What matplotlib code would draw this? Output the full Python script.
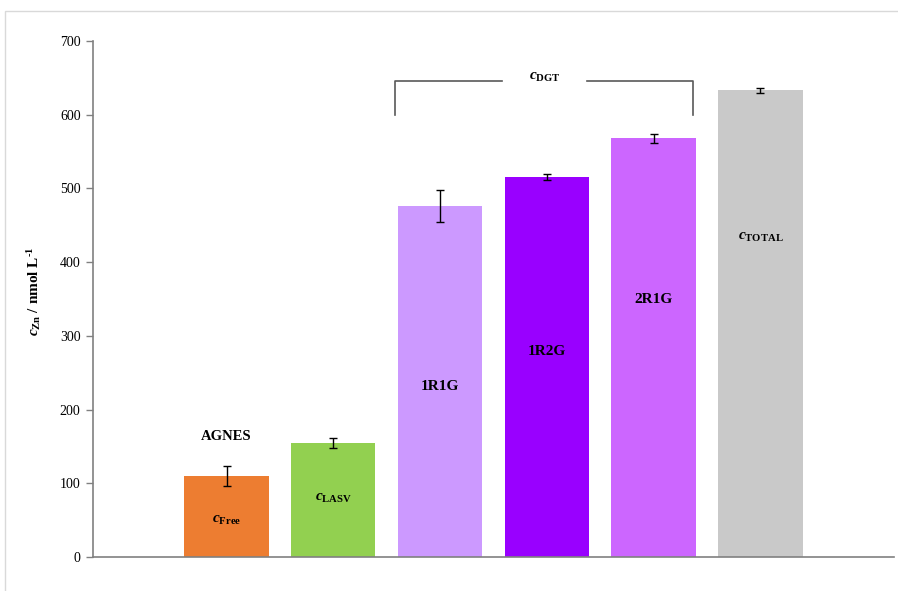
import matplotlib
matplotlib.use("Agg")
import matplotlib.pyplot as plt
from matplotlib.patches import Rectangle

# data
categories = ['cFree', 'cLASV', '1R1G', '1R2G', '2R1G', 'cTOTAL']
values = [110, 155, 476, 516, 568, 633]
errors = [14, 7, 22, 4, 6, 3]
bar_labels = [r'$\mathit{c}_{\mathbf{Free}}$', r'$\mathit{c}_{\mathbf{LASV}}$',
              '1R1G', '1R2G', '2R1G', r'$\mathit{c}_{\mathbf{TOTAL}}$']
label_y = [50, 79, 231, 279, 350, 433]
colors = ['#ED7D31', '#92D050', '#CC99FF', '#9900FF', '#CC66FF', '#C9C9C9']

plt.rcParams['font.family'] = ['Liberation Serif', 'DejaVu Serif']
plt.rcParams['mathtext.fontset'] = 'custom'
plt.rcParams['mathtext.rm'] = 'Liberation Serif:bold'
plt.rcParams['mathtext.it'] = 'Liberation Serif:italic:bold'
plt.rcParams['mathtext.bf'] = 'Liberation Serif:bold'

fig = plt.figure(figsize=(8.98, 5.91), dpi=100)
# chart-area frame (cropped at right/bottom)
fig.patches.append(Rectangle((5 / 898, -0.1), 1.2, 1.1 - 11 / 591,
                             transform=fig.transFigure, fill=False,
                             edgecolor='#D9D9D9', linewidth=1))

ax = fig.add_axes([0.1036, 0.0575, 0.8919, 0.8731])
x = list(range(len(categories)))
ax.bar(x, values, width=0.79, color=colors, zorder=2)
ax.errorbar(x, values, yerr=errors, fmt='none', ecolor='black',
            elinewidth=1, capsize=3, capthick=1, zorder=3)

for xi, lab, ly in zip(x, bar_labels, label_y):
    ax.text(xi, ly, lab, ha='center', va='center', fontsize=11,
            fontweight='bold', color='black')

ax.text(0, 164, 'AGNES', ha='center', va='center', fontsize=10.5,
        fontweight='bold')

# bracket over the DGT bars
bx0, bx1 = 1.58, 4.37
by0, by1 = 599, 646
ax.plot([bx0, bx0, 2.58], [by0, by1, by1], color='#595959', lw=1.2, zorder=1)
ax.plot([3.38, bx1, bx1], [by1, by1, by0], color='#595959', lw=1.2, zorder=1)
ax.text(2.98, 651, r'$\mathit{c}_{\mathbf{DGT}}$', ha='center', va='center',
        fontsize=11)

ax.set_xlim(-1.25, 6.25)
ax.set_ylim(0, 700)
ax.set_yticks(range(0, 701, 100))
ax.set_xticks([])
ax.tick_params(axis='y', direction='out', length=5, width=1, color='#808080',
               labelsize=10, pad=4)
for side in ['top', 'right']:
    ax.spines[side].set_visible(False)
for side in ['left', 'bottom']:
    ax.spines[side].set_color('#808080')
    ax.spines[side].set_linewidth(1.2)

ax.set_ylabel(r'$\mathit{c}_{\mathbf{Zn}}$ / nmol L$^{\mathbf{\text{-}1}}$',
              fontsize=11, fontweight='bold')
ax.yaxis.set_label_coords(-0.062, 0.515)

fig.savefig('out.png', dpi=100)
